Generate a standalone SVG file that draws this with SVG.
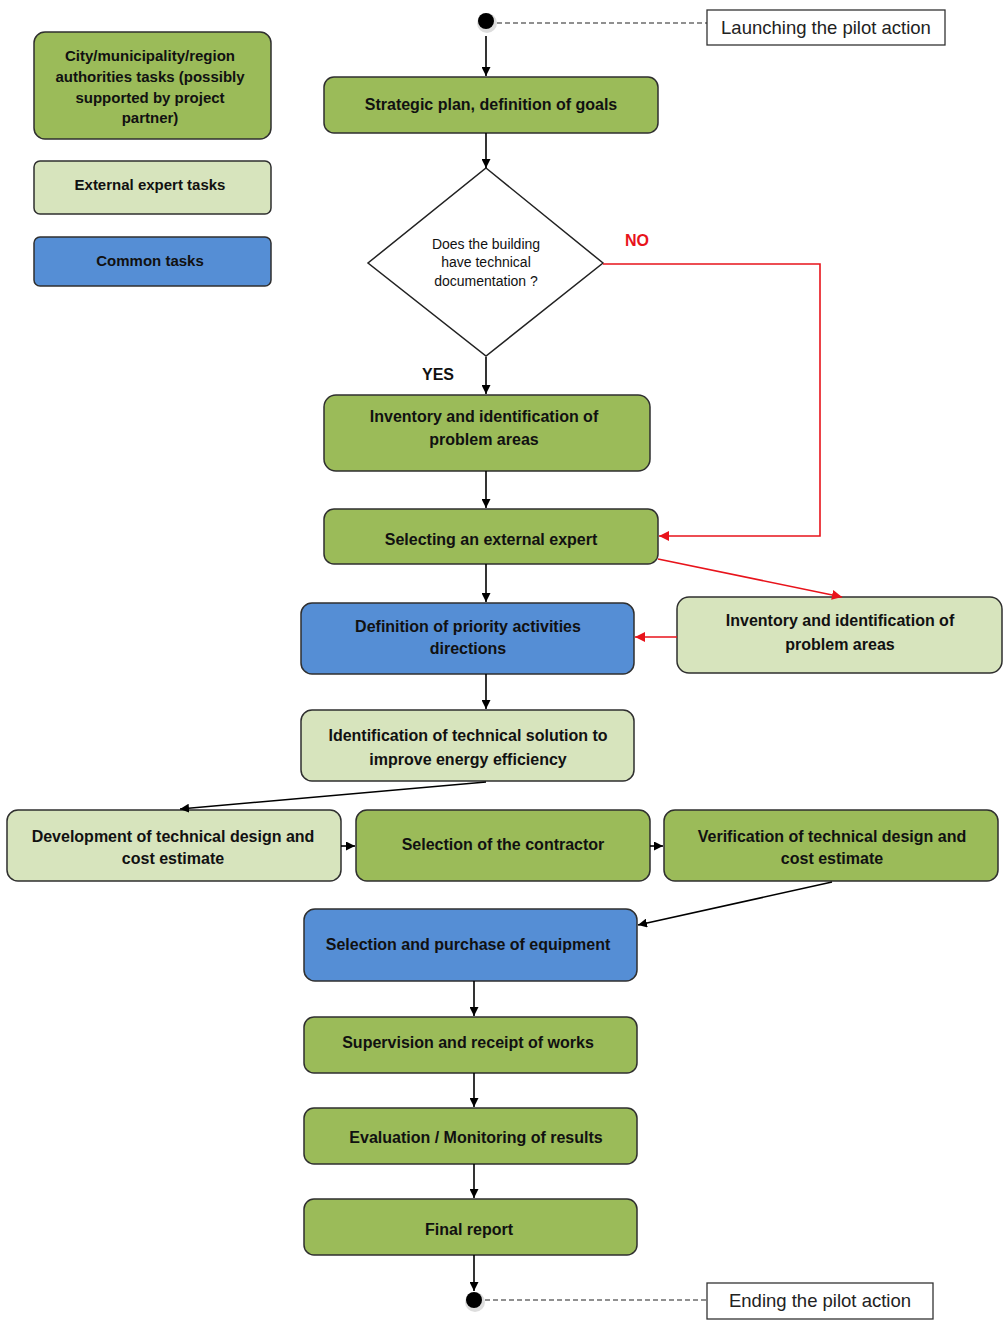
<svg xmlns="http://www.w3.org/2000/svg" width="1008" height="1334" viewBox="0 0 1008 1334">
<style>
.box{stroke:#2f2f2f;stroke-width:1.5}
.g{fill:#9BBB59}
.l{fill:#D7E4BD}
.b{fill:#558ED5}
.t{font-family:"Liberation Sans",Arial,sans-serif;font-weight:bold;font-size:16px;fill:#111;text-anchor:middle}
.s{font-size:15px}
.d{font-size:14px;font-weight:normal}
.n{font-family:"Liberation Sans",Arial,sans-serif;font-size:18.5px;fill:#222;text-anchor:middle}
.c{fill:none;stroke:#000;stroke-width:1.6}
.r{fill:none;stroke:#e8131b;stroke-width:1.6}
.dash{fill:none;stroke:#222;stroke-width:1.2;stroke-dasharray:5 3}
.note{fill:#fff;stroke:#333;stroke-width:1.3}
</style>
<defs>
<marker id="ak" viewBox="0 0 10 10" refX="10" refY="5" markerWidth="9" markerHeight="9" markerUnits="userSpaceOnUse" orient="auto"><path d="M0,0 L10,5 L0,10 z" fill="#000"/></marker>
<marker id="ar" viewBox="0 0 10 10" refX="10" refY="5" markerWidth="10" markerHeight="10" markerUnits="userSpaceOnUse" orient="auto"><path d="M0,0 L10,5 L0,10 z" fill="#e8131b"/></marker>
</defs>
<rect width="1008" height="1334" fill="#fff"/>

<g id="legend-authorities"><rect class="box g" x="34" y="32" width="237" height="107" rx="11"/>
<text class="t s" x="150" y="61">City/municipality/region</text>
<text class="t s" x="150" y="82">authorities tasks (possibly</text>
<text class="t s" x="150" y="103">supported by project</text>
<text class="t s" x="150" y="123">partner)</text></g>
<g id="legend-expert"><rect class="box l" x="34" y="161" width="237" height="53" rx="6"/>
<text class="t s" x="150" y="190">External expert tasks</text></g>
<g id="legend-common"><rect class="box b" x="34" y="237" width="237" height="49" rx="6"/>
<text class="t s" x="150" y="266">Common tasks</text></g>

<g id="start"><circle cx="487" cy="23" r="10" fill="#ddd"/><circle cx="486" cy="21" r="8" fill="#000"/></g>
<g id="note-start"><rect class="note" x="707" y="10" width="238" height="35"/>
<text class="n" x="826" y="34">Launching the pilot action</text></g>

<g id="n-strategic"><rect class="box g" x="324" y="77" width="334" height="56" rx="10"/>
<text class="t" x="491" y="110">Strategic plan, definition of goals</text></g>

<g id="n-decision"><polygon points="486,168 603,263 486,356 368,263" fill="#fff" stroke="#222" stroke-width="1.5"/>
<text class="t d" x="486" y="249">Does the building</text>
<text class="t d" x="486" y="267">have technical</text>
<text class="t d" x="486" y="286">documentation ?</text></g>

<g id="n-inventory1"><rect class="box g" x="324" y="395" width="326" height="76" rx="12"/>
<text class="t" x="484" y="422">Inventory and identification of</text>
<text class="t" x="484" y="445">problem areas</text></g>

<g id="n-selecting"><rect class="box g" x="324" y="509" width="334" height="55" rx="10"/>
<text class="t" x="491" y="545">Selecting an external expert</text></g>

<g id="n-definition"><rect class="box b" x="301" y="603" width="333" height="71" rx="11"/>
<text class="t" x="468" y="632">Definition of priority activities</text>
<text class="t" x="468" y="654">directions</text></g>

<g id="n-inventory2"><rect class="box l" x="677" y="597" width="325" height="76" rx="12"/>
<text class="t" x="840" y="626">Inventory and identification of</text>
<text class="t" x="840" y="650">problem areas</text></g>

<g id="n-identification"><rect class="box l" x="301" y="710" width="333" height="71" rx="11"/>
<text class="t" x="468" y="741">Identification of technical solution to</text>
<text class="t" x="468" y="765">improve energy efficiency</text></g>

<g id="n-development"><rect class="box l" x="7" y="810" width="334" height="71" rx="11"/>
<text class="t" x="173" y="842">Development of technical design and</text>
<text class="t" x="173" y="864">cost estimate</text></g>

<g id="n-contractor"><rect class="box g" x="356" y="810" width="294" height="71" rx="11"/>
<text class="t" x="503" y="850">Selection of the contractor</text></g>

<g id="n-verification"><rect class="box g" x="664" y="810" width="334" height="71" rx="11"/>
<text class="t" x="832" y="842">Verification of technical design and</text>
<text class="t" x="832" y="864">cost estimate</text></g>

<g id="n-purchase"><rect class="box b" x="304" y="909" width="333" height="72" rx="11"/>
<text class="t" x="468" y="950">Selection and purchase of equipment</text></g>

<g id="n-supervision"><rect class="box g" x="304" y="1017" width="333" height="56" rx="10"/>
<text class="t" x="468" y="1048">Supervision and receipt of works</text></g>

<g id="n-evaluation"><rect class="box g" x="304" y="1108" width="333" height="56" rx="10"/>
<text class="t" x="476" y="1143">Evaluation / Monitoring of results</text></g>

<g id="n-final"><rect class="box g" x="304" y="1199" width="333" height="56" rx="10"/>
<text class="t" x="469" y="1235">Final report</text></g>

<g id="end"><circle cx="475" cy="1302" r="10" fill="#ddd"/><circle cx="474" cy="1300" r="8" fill="#000"/></g>
<g id="note-end"><rect class="note" x="707" y="1283" width="226" height="36"/>
<text class="n" x="820" y="1307">Ending the pilot action</text></g>

<g id="labels">
<text x="637" y="246" font-family="Liberation Sans,Arial,sans-serif" font-weight="bold" font-size="16" fill="#e8131b" text-anchor="middle">NO</text>
<text x="438" y="380" font-family="Liberation Sans,Arial,sans-serif" font-weight="bold" font-size="16" fill="#111" text-anchor="middle">YES</text>
</g>

<g id="connectors">
<path class="dash" d="M497,23 H707"/>
<path class="dash" d="M485,1300 H707"/>
<path class="c" d="M486,36 V76" marker-end="url(#ak)"/>
<path class="c" d="M486,133 V168" marker-end="url(#ak)"/>
<path class="c" d="M486,357 V394" marker-end="url(#ak)"/>
<path class="c" d="M486,471 V508" marker-end="url(#ak)"/>
<path class="c" d="M486,564 V602" marker-end="url(#ak)"/>
<path class="c" d="M486,674 V709" marker-end="url(#ak)"/>
<path class="c" d="M486,782 L180,809" marker-end="url(#ak)"/>
<path class="c" d="M341,846 H355" marker-end="url(#ak)"/>
<path class="c" d="M650,846 H663" marker-end="url(#ak)"/>
<path class="c" d="M832,882 L638,925" marker-end="url(#ak)"/>
<path class="c" d="M474,981 V1016" marker-end="url(#ak)"/>
<path class="c" d="M474,1073 V1107" marker-end="url(#ak)"/>
<path class="c" d="M474,1164 V1198" marker-end="url(#ak)"/>
<path class="c" d="M474,1255 V1291" marker-end="url(#ak)"/>
<path class="r" d="M603,264 H820 V536 H659" marker-end="url(#ar)"/>
<path class="r" d="M658,559 L842,597" marker-end="url(#ar)"/>
<path class="r" d="M677,637 H635" marker-end="url(#ar)"/>
</g>
</svg>
